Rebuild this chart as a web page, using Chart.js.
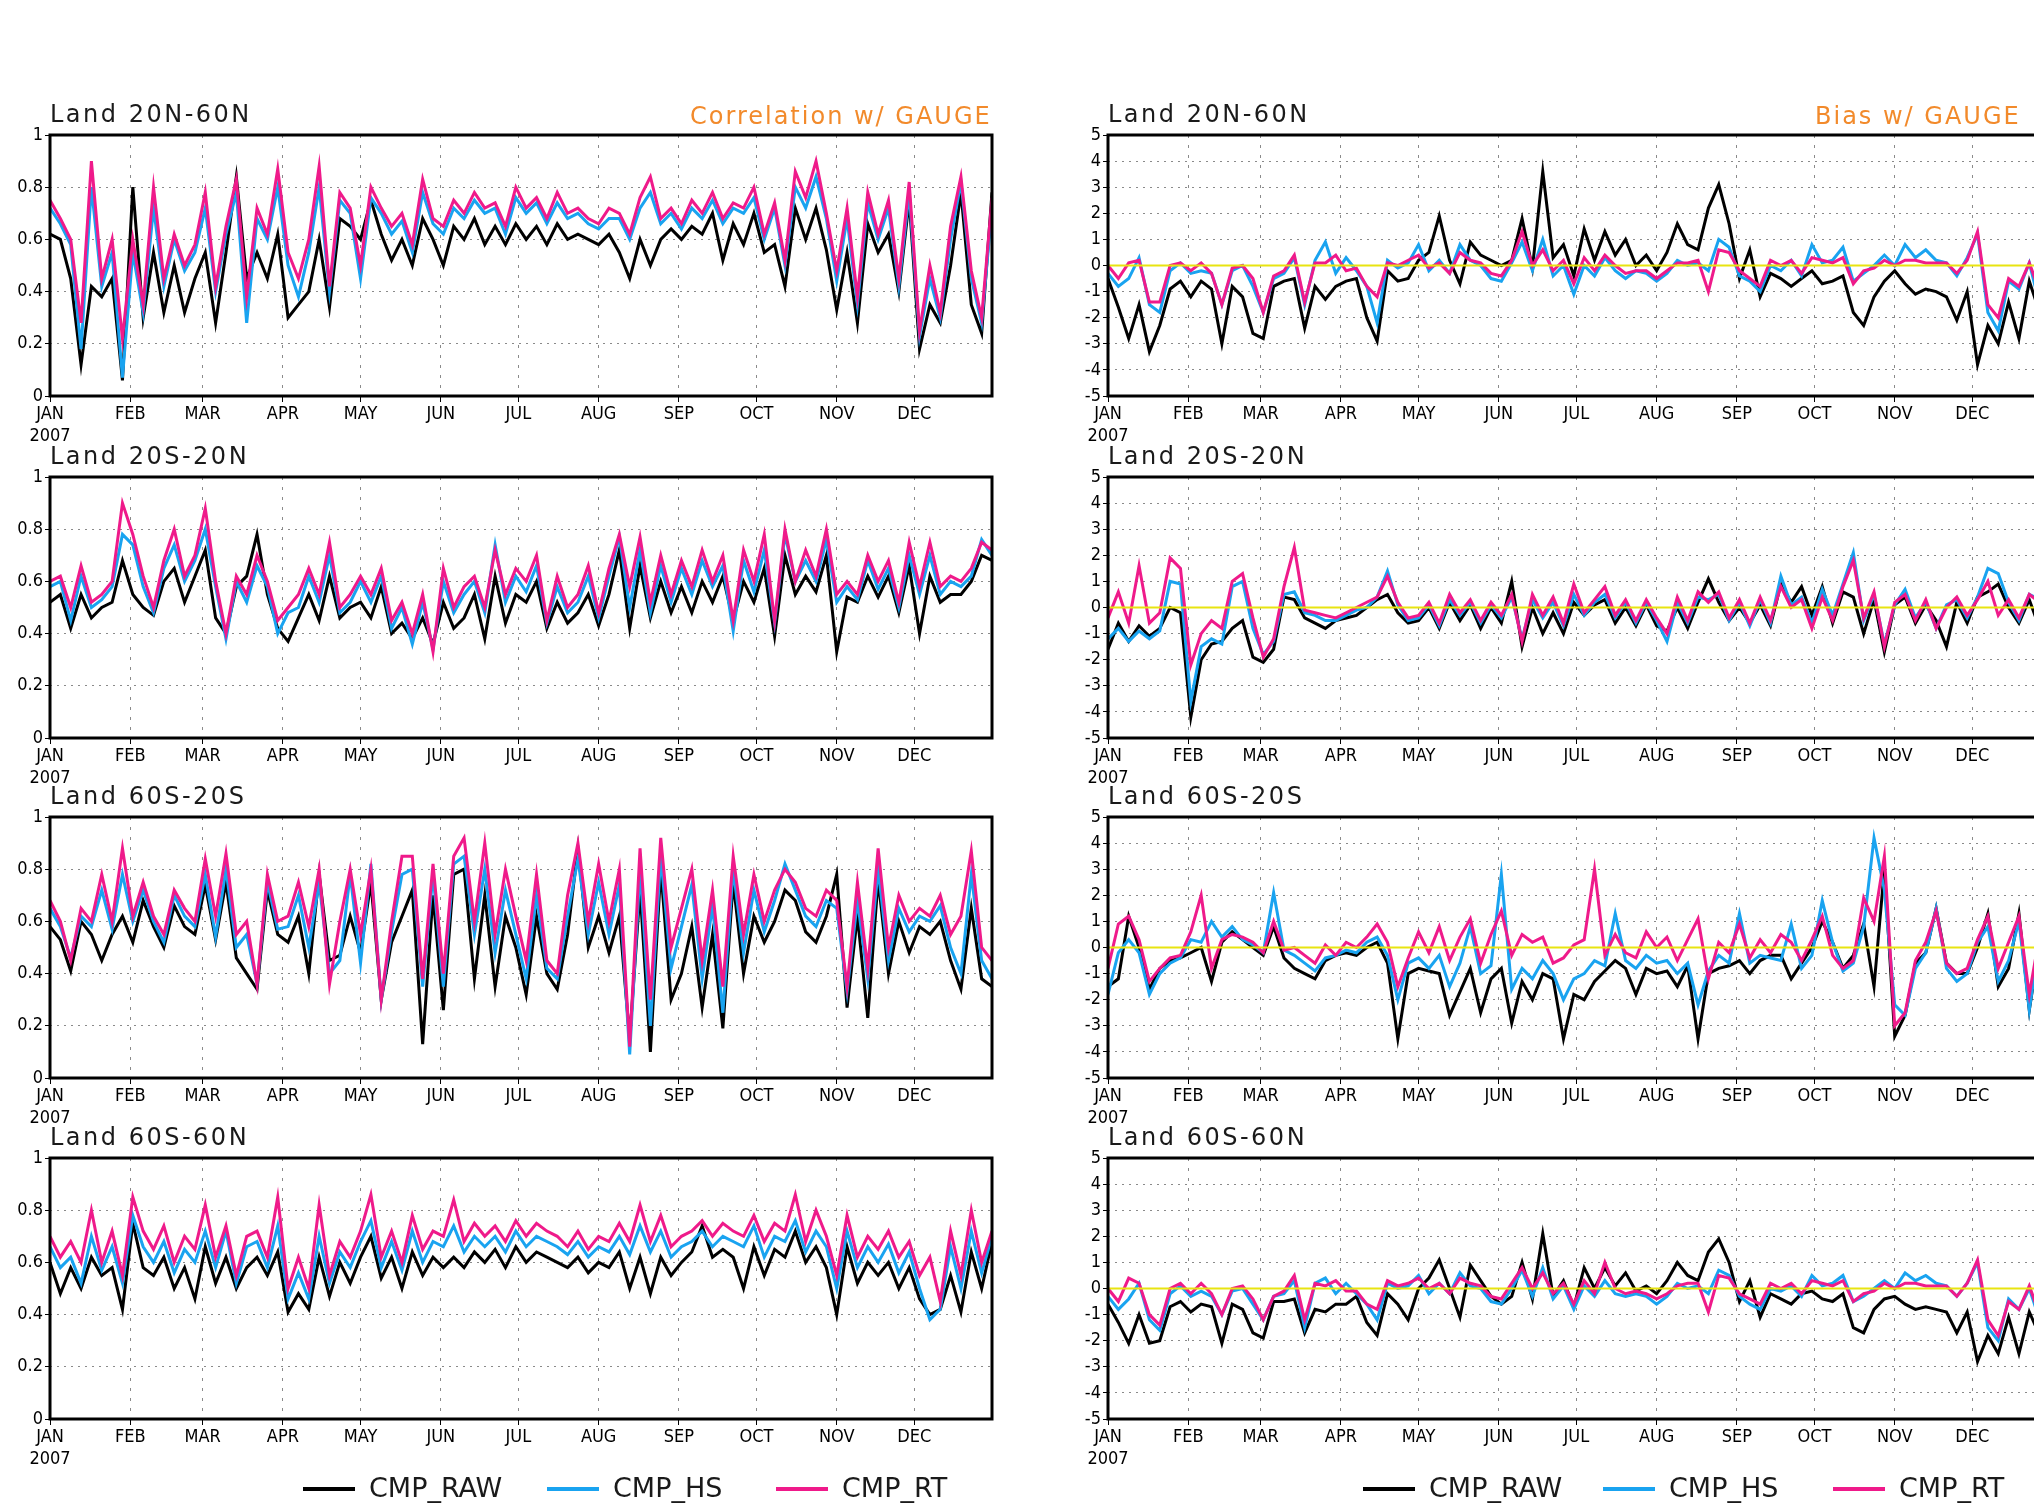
<!DOCTYPE html>
<html lang="en">
<head>
<meta charset="UTF-8">
<title>CMP vs GAUGE - Land 2007</title>
<script src="https://cdn.jsdelivr.net/npm/chart.js@4.4.1/dist/chart.umd.min.js"></script>
<style>
  html, body { margin: 0; padding: 0; background: #fff; overflow: hidden; }
  #stage { position: relative; width: 2034px; height: 1503px; overflow: hidden; }
  #stage canvas { position: absolute; }
  .region { position: absolute; font-family: "DejaVu Sans", sans-serif; font-size: 24px;
            letter-spacing: 2.5px; color: #1a1a1a; line-height: 1; white-space: nowrap; }
  .head { position: absolute; font-family: "DejaVu Sans", sans-serif; font-size: 24px; letter-spacing: 2px;
          color: #f28a2b; line-height: 1; white-space: nowrap; }
  .leg { position: absolute; font-family: "DejaVu Sans", sans-serif; font-size: 27px;
         color: #1a1a1a; line-height: 1; white-space: nowrap; }
  .sw { position: absolute; height: 4px; }
</style>
</head>
<body>
<div id="stage"></div>

<script>
// ---- axis categories ----
const MONTH_LABELS = ["JAN", "FEB", "MAR", "APR", "MAY", "JUN", "JUL", "AUG", "SEP", "OCT", "NOV", "DEC"];
const MONTH_START = [0, 31, 59, 90, 120, 151, 181, 212, 243, 273, 304, 334];
// one sample every 4 days, day 0 .. 364
const DAYS = Array.from({ length: 92 }, (_, i) => i * 4);

// ---- Correlation w/ GAUGE, Land 20N-60N ----
const corrN_raw = [
  0.62, 0.60, 0.45, 0.12, 0.42, 0.38, 0.45, 0.06, 0.80, 0.30,
  0.55, 0.32, 0.50, 0.32, 0.45, 0.55, 0.28, 0.55, 0.84, 0.45,
  0.55, 0.45, 0.62, 0.30, 0.35, 0.40, 0.60, 0.34, 0.68, 0.65,
  0.60, 0.75, 0.62, 0.52, 0.60, 0.50, 0.68, 0.60, 0.50, 0.65,
  0.60, 0.68, 0.58, 0.65, 0.58, 0.66, 0.60, 0.65, 0.58, 0.66,
  0.60, 0.62, 0.60, 0.58, 0.62, 0.55, 0.45, 0.60, 0.50, 0.60,
  0.64, 0.60, 0.65, 0.62, 0.70, 0.52, 0.66, 0.58, 0.70, 0.55,
  0.58, 0.42, 0.72, 0.60, 0.72, 0.56, 0.33, 0.55, 0.28, 0.66,
  0.55, 0.62, 0.40, 0.75, 0.18, 0.35, 0.28, 0.50, 0.78, 0.35,
  0.24, 0.78];
const corrN_hs = [
  0.72, 0.66, 0.58, 0.18, 0.80, 0.42, 0.55, 0.07, 0.55, 0.32,
  0.72, 0.42, 0.60, 0.48, 0.55, 0.72, 0.40, 0.62, 0.78, 0.28,
  0.68, 0.60, 0.80, 0.50, 0.38, 0.55, 0.80, 0.40, 0.75, 0.70,
  0.45, 0.76, 0.70, 0.62, 0.67, 0.55, 0.78, 0.66, 0.62, 0.72,
  0.68, 0.75, 0.70, 0.72, 0.62, 0.76, 0.70, 0.74, 0.66, 0.74,
  0.68, 0.70, 0.66, 0.64, 0.68, 0.68, 0.60, 0.72, 0.78, 0.66,
  0.70, 0.64, 0.72, 0.68, 0.75, 0.66, 0.72, 0.70, 0.76, 0.60,
  0.72, 0.50, 0.80, 0.72, 0.84, 0.68, 0.44, 0.68, 0.35, 0.74,
  0.60, 0.72, 0.42, 0.78, 0.23, 0.45, 0.30, 0.60, 0.82, 0.45,
  0.28, 0.72];
const corrN_rt = [
  0.75, 0.68, 0.60, 0.28, 0.90, 0.45, 0.60, 0.22, 0.60, 0.35,
  0.80, 0.45, 0.62, 0.50, 0.58, 0.78, 0.42, 0.65, 0.83, 0.38,
  0.72, 0.62, 0.87, 0.55, 0.45, 0.60, 0.88, 0.42, 0.78, 0.72,
  0.50, 0.80, 0.72, 0.65, 0.70, 0.58, 0.83, 0.68, 0.65, 0.75,
  0.70, 0.78, 0.72, 0.74, 0.65, 0.80, 0.72, 0.76, 0.68, 0.78,
  0.70, 0.72, 0.68, 0.66, 0.72, 0.70, 0.62, 0.76, 0.84, 0.68,
  0.72, 0.66, 0.75, 0.70, 0.78, 0.68, 0.74, 0.72, 0.80, 0.62,
  0.74, 0.52, 0.86, 0.76, 0.90, 0.70, 0.48, 0.72, 0.38, 0.78,
  0.62, 0.75, 0.45, 0.82, 0.25, 0.50, 0.32, 0.65, 0.84, 0.48,
  0.30, 0.76];

// ---- Correlation, Land 20S-20N ----
const corrT_raw = [
  0.52, 0.55, 0.42, 0.55, 0.46, 0.50, 0.52, 0.68, 0.55, 0.50,
  0.47, 0.60, 0.65, 0.52, 0.62, 0.72, 0.46, 0.40, 0.58, 0.62,
  0.78, 0.55, 0.42, 0.37, 0.46, 0.55, 0.45, 0.62, 0.46, 0.50,
  0.52, 0.46, 0.58, 0.40, 0.44, 0.38, 0.46, 0.36, 0.52, 0.42,
  0.46, 0.55, 0.38, 0.62, 0.44, 0.55, 0.52, 0.60, 0.42, 0.52,
  0.44, 0.48, 0.55, 0.43, 0.55, 0.72, 0.42, 0.66, 0.46, 0.60,
  0.48, 0.58, 0.48, 0.60, 0.52, 0.62, 0.45, 0.60, 0.52, 0.65,
  0.39, 0.70, 0.55, 0.62, 0.56, 0.70, 0.33, 0.54, 0.52, 0.62,
  0.54, 0.62, 0.48, 0.66, 0.40, 0.62, 0.52, 0.55, 0.55, 0.60,
  0.70, 0.68];
const corrT_hs = [
  0.58, 0.60, 0.45, 0.62, 0.50, 0.53, 0.58, 0.78, 0.74, 0.58,
  0.48, 0.65, 0.74, 0.60, 0.68, 0.80, 0.58, 0.38, 0.60, 0.52,
  0.66, 0.58, 0.40, 0.48, 0.50, 0.62, 0.52, 0.70, 0.48, 0.52,
  0.60, 0.52, 0.62, 0.42, 0.50, 0.36, 0.52, 0.34, 0.60, 0.48,
  0.55, 0.60, 0.48, 0.74, 0.52, 0.62, 0.56, 0.66, 0.44, 0.58,
  0.48, 0.52, 0.62, 0.46, 0.62, 0.77, 0.50, 0.72, 0.48, 0.66,
  0.52, 0.65, 0.55, 0.68, 0.58, 0.66, 0.41, 0.68, 0.56, 0.72,
  0.44, 0.78, 0.60, 0.68, 0.60, 0.76, 0.52, 0.58, 0.53, 0.68,
  0.57, 0.65, 0.50, 0.70, 0.55, 0.70, 0.55, 0.60, 0.58, 0.62,
  0.76, 0.70];
const corrT_rt = [
  0.60, 0.62, 0.50, 0.66, 0.52, 0.55, 0.60, 0.90, 0.78, 0.62,
  0.50, 0.68, 0.80, 0.62, 0.70, 0.88, 0.60, 0.40, 0.62, 0.55,
  0.70, 0.60, 0.45, 0.50, 0.55, 0.65, 0.55, 0.75, 0.50, 0.55,
  0.62, 0.55, 0.65, 0.45, 0.52, 0.40, 0.55, 0.33, 0.65, 0.50,
  0.58, 0.62, 0.50, 0.72, 0.55, 0.65, 0.60, 0.70, 0.45, 0.62,
  0.50, 0.55, 0.66, 0.48, 0.65, 0.78, 0.58, 0.77, 0.52, 0.70,
  0.55, 0.68, 0.58, 0.72, 0.60, 0.70, 0.45, 0.72, 0.60, 0.78,
  0.45, 0.80, 0.60, 0.72, 0.62, 0.80, 0.55, 0.60, 0.55, 0.70,
  0.60, 0.68, 0.52, 0.75, 0.58, 0.75, 0.58, 0.62, 0.60, 0.65,
  0.75, 0.72];

// ---- Correlation, Land 60S-20S ----
const corrS_raw = [
  0.58, 0.53, 0.41, 0.60, 0.55, 0.45, 0.55, 0.62, 0.52, 0.68,
  0.58, 0.50, 0.66, 0.58, 0.55, 0.74, 0.53, 0.75, 0.46, 0.40,
  0.34, 0.72, 0.55, 0.52, 0.62, 0.40, 0.78, 0.45, 0.47, 0.62,
  0.48, 0.75, 0.30, 0.52, 0.62, 0.72, 0.13, 0.70, 0.26, 0.78,
  0.80, 0.38, 0.70, 0.35, 0.62, 0.50, 0.32, 0.62, 0.40, 0.34,
  0.55, 0.88, 0.50, 0.62, 0.48, 0.62, 0.15, 0.72, 0.10, 0.80,
  0.30, 0.40, 0.58, 0.27, 0.55, 0.19, 0.75, 0.40, 0.62, 0.52,
  0.60, 0.72, 0.68, 0.56, 0.52, 0.62, 0.78, 0.27, 0.62, 0.23,
  0.76, 0.40, 0.60, 0.48, 0.58, 0.55, 0.60, 0.45, 0.34, 0.65,
  0.38, 0.35];
const corrS_hs = [
  0.65, 0.58, 0.46, 0.62, 0.58, 0.72, 0.57, 0.78, 0.60, 0.72,
  0.60, 0.52, 0.70, 0.62, 0.58, 0.78, 0.54, 0.80, 0.50, 0.55,
  0.36, 0.75, 0.57, 0.58, 0.70, 0.50, 0.75, 0.40, 0.45, 0.78,
  0.44, 0.82, 0.30, 0.56, 0.78, 0.80, 0.35, 0.78, 0.35, 0.82,
  0.85, 0.55, 0.80, 0.48, 0.72, 0.55, 0.38, 0.70, 0.42, 0.38,
  0.62, 0.84, 0.55, 0.75, 0.55, 0.74, 0.09, 0.80, 0.20, 0.85,
  0.42, 0.58, 0.74, 0.38, 0.66, 0.25, 0.80, 0.48, 0.72, 0.56,
  0.68, 0.82, 0.72, 0.62, 0.58, 0.68, 0.65, 0.33, 0.68, 0.38,
  0.80, 0.45, 0.65, 0.56, 0.62, 0.60, 0.66, 0.50, 0.40, 0.78,
  0.45, 0.38];
const corrS_rt = [
  0.68, 0.60, 0.45, 0.65, 0.60, 0.78, 0.60, 0.88, 0.62, 0.75,
  0.62, 0.55, 0.72, 0.65, 0.60, 0.84, 0.62, 0.86, 0.55, 0.60,
  0.36, 0.78, 0.60, 0.62, 0.75, 0.58, 0.80, 0.36, 0.60, 0.80,
  0.55, 0.80, 0.30, 0.60, 0.85, 0.85, 0.38, 0.82, 0.40, 0.85,
  0.92, 0.60, 0.90, 0.55, 0.80, 0.62, 0.45, 0.78, 0.45, 0.40,
  0.70, 0.90, 0.60, 0.82, 0.60, 0.80, 0.12, 0.88, 0.30, 0.92,
  0.50, 0.65, 0.80, 0.45, 0.72, 0.35, 0.85, 0.55, 0.78, 0.60,
  0.72, 0.80, 0.75, 0.65, 0.62, 0.72, 0.68, 0.35, 0.75, 0.42,
  0.88, 0.50, 0.70, 0.60, 0.65, 0.62, 0.70, 0.55, 0.62, 0.87,
  0.50, 0.45];

// ---- Correlation, Land 60S-60N ----
const corrG_raw = [
  0.60, 0.48, 0.58, 0.50, 0.62, 0.55, 0.58, 0.42, 0.75, 0.58,
  0.55, 0.62, 0.50, 0.58, 0.46, 0.66, 0.52, 0.62, 0.50, 0.58,
  0.62, 0.55, 0.64, 0.41, 0.48, 0.42, 0.62, 0.47, 0.60, 0.52,
  0.62, 0.70, 0.54, 0.62, 0.50, 0.64, 0.55, 0.62, 0.58, 0.62,
  0.58, 0.64, 0.60, 0.65, 0.58, 0.66, 0.60, 0.64, 0.62, 0.60,
  0.58, 0.62, 0.56, 0.60, 0.58, 0.64, 0.50, 0.62, 0.48, 0.62,
  0.55, 0.60, 0.64, 0.74, 0.62, 0.65, 0.62, 0.50, 0.66, 0.55,
  0.65, 0.62, 0.72, 0.60, 0.66, 0.58, 0.40, 0.66, 0.52, 0.60,
  0.55, 0.60, 0.50, 0.58, 0.46, 0.40, 0.42, 0.55, 0.41, 0.64,
  0.50, 0.68];
const corrG_hs = [
  0.66, 0.58, 0.62, 0.52, 0.70, 0.57, 0.66, 0.52, 0.78, 0.66,
  0.60, 0.68, 0.56, 0.65, 0.60, 0.72, 0.58, 0.72, 0.52, 0.66,
  0.68, 0.58, 0.74, 0.46, 0.56, 0.46, 0.70, 0.52, 0.64, 0.58,
  0.68, 0.76, 0.58, 0.68, 0.57, 0.72, 0.60, 0.68, 0.66, 0.74,
  0.64, 0.70, 0.66, 0.70, 0.64, 0.72, 0.66, 0.70, 0.68, 0.66,
  0.63, 0.68, 0.62, 0.66, 0.64, 0.70, 0.63, 0.74, 0.64, 0.72,
  0.62, 0.66, 0.68, 0.72, 0.66, 0.70, 0.68, 0.66, 0.74, 0.62,
  0.70, 0.68, 0.76, 0.64, 0.72, 0.66, 0.50, 0.72, 0.58, 0.66,
  0.60, 0.67, 0.56, 0.64, 0.50, 0.38, 0.42, 0.66, 0.50, 0.72,
  0.56, 0.70];
const corrG_rt = [
  0.70, 0.62, 0.68, 0.60, 0.80, 0.60, 0.72, 0.55, 0.85, 0.72,
  0.65, 0.74, 0.60, 0.70, 0.65, 0.82, 0.62, 0.74, 0.55, 0.70,
  0.72, 0.62, 0.85, 0.50, 0.62, 0.50, 0.82, 0.55, 0.68, 0.62,
  0.72, 0.86, 0.62, 0.72, 0.60, 0.78, 0.65, 0.72, 0.70, 0.84,
  0.68, 0.75, 0.70, 0.74, 0.68, 0.76, 0.70, 0.75, 0.72, 0.70,
  0.66, 0.72, 0.65, 0.70, 0.68, 0.75, 0.68, 0.82, 0.68, 0.78,
  0.66, 0.70, 0.72, 0.76, 0.70, 0.75, 0.72, 0.70, 0.78, 0.68,
  0.75, 0.72, 0.86, 0.68, 0.80, 0.70, 0.55, 0.78, 0.62, 0.70,
  0.65, 0.72, 0.62, 0.68, 0.55, 0.62, 0.45, 0.72, 0.55, 0.80,
  0.60, 0.72];

// ---- Bias w/ GAUGE, Land 20N-60N ----
const biasN_raw = [
  -0.5, -1.6, -2.8, -1.5, -3.3, -2.3, -0.9, -0.6, -1.2, -0.6,
  -0.9, -3.0, -0.8, -1.2, -2.6, -2.8, -0.8, -0.6, -0.5, -2.4,
  -0.8, -1.3, -0.8, -0.6, -0.5, -2.0, -2.9, -0.2, -0.6, -0.5,
  0.2, 0.5, 1.9, 0.2, -0.7, 0.9, 0.4, 0.2, 0.0, 0.2,
  1.8, -0.1, 3.6, 0.3, 0.8, -0.4, 1.4, 0.2, 1.3, 0.4,
  1.0, 0.0, 0.4, -0.2, 0.5, 1.6, 0.8, 0.6, 2.2, 3.1,
  1.6, -0.5, 0.6, -1.2, -0.3, -0.5, -0.8, -0.5, -0.2, -0.7,
  -0.6, -0.4, -1.8, -2.3, -1.2, -0.6, -0.2, -0.7, -1.1, -0.9,
  -1.0, -1.2, -2.1, -1.0, -3.8, -2.3, -3.0, -1.4, -2.8, -0.6,
  -1.8, -1.0];
const biasN_hs = [
  -0.3, -0.8, -0.5, 0.3, -1.5, -1.8, -0.2, 0.1, -0.3, -0.2,
  -0.3, -1.5, -0.2, 0.0, -0.8, -1.8, -0.5, -0.3, 0.3, -1.5,
  0.2, 0.9, -0.3, 0.3, -0.2, -0.8, -2.2, 0.2, -0.1, 0.1,
  0.8, -0.2, 0.2, -0.3, 0.8, 0.2, 0.0, -0.5, -0.6, 0.1,
  0.9, -0.2, 1.0, -0.4, 0.0, -1.1, 0.0, -0.4, 0.3, -0.2,
  -0.5, -0.2, -0.3, -0.6, -0.3, 0.2, 0.0, 0.1, -0.2, 1.0,
  0.7, -0.4, -0.6, -1.0, 0.0, -0.2, 0.2, -0.4, 0.8, 0.1,
  0.2, 0.7, -0.6, -0.3, 0.0, 0.4, 0.0, 0.8, 0.3, 0.6,
  0.2, 0.1, -0.4, 0.3, 1.2, -1.8, -2.5, -0.6, -0.9, 0.1,
  -1.5, -0.6];
const biasN_rt = [
  0.0, -0.5, 0.1, 0.2, -1.4, -1.4, 0.0, 0.1, -0.2, 0.1,
  -0.3, -1.5, -0.1, 0.0, -0.5, -1.8, -0.4, -0.2, 0.4, -1.4,
  0.1, 0.1, 0.4, -0.2, -0.1, -0.8, -1.2, 0.1, 0.0, 0.2,
  0.4, -0.1, 0.1, -0.3, 0.5, 0.2, 0.1, -0.3, -0.4, 0.2,
  1.3, 0.0, 0.6, -0.2, 0.2, -0.7, 0.3, -0.2, 0.4, 0.0,
  -0.3, -0.2, -0.2, -0.5, -0.2, 0.1, 0.1, 0.2, -1.0, 0.6,
  0.5, -0.2, -0.5, -0.8, 0.2, 0.0, 0.2, -0.3, 0.3, 0.2,
  0.1, 0.3, -0.7, -0.2, -0.1, 0.2, 0.0, 0.2, 0.2, 0.1,
  0.1, 0.1, -0.3, 0.2, 1.3, -1.5, -2.0, -0.5, -0.8, 0.1,
  -1.0, -0.4];

// ---- Bias, Land 20S-20N ----
const biasT_raw = [
  -1.6, -0.6, -1.3, -0.7, -1.1, -0.8, 0.0, -0.2, -4.2, -2.0,
  -1.4, -1.3, -0.8, -0.5, -1.9, -2.1, -1.6, 0.4, 0.3, -0.4,
  -0.6, -0.8, -0.5, -0.4, -0.3, 0.0, 0.3, 0.5, -0.2, -0.6,
  -0.5, 0.0, -0.8, 0.2, -0.5, 0.1, -0.8, 0.0, -0.6, 1.0,
  -1.5, 0.0, -1.0, -0.2, -1.0, 0.2, -0.3, 0.1, 0.3, -0.6,
  0.0, -0.7, 0.1, -0.7, -0.9, 0.0, -0.8, 0.2, 1.1, 0.2,
  -0.5, 0.0, -0.6, 0.1, -0.7, 0.9, 0.2, 0.8, -0.3, 0.8,
  -0.6, 0.6, 0.4, -1.0, 0.3, -1.7, 0.1, 0.4, -0.6, 0.1,
  -0.5, -1.5, 0.2, -0.6, 0.4, 0.6, 0.9, 0.0, -0.6, 0.3,
  -0.8, -1.2];
const biasT_hs = [
  -1.2, -0.8, -1.3, -0.9, -1.2, -0.9, 1.0, 0.9, -3.6, -1.5,
  -1.2, -1.4, 0.8, 1.0, -0.8, -1.8, -1.3, 0.5, 0.6, -0.2,
  -0.3, -0.5, -0.5, -0.3, -0.1, 0.0, 0.4, 1.4, 0.1, -0.5,
  -0.4, 0.1, -0.7, 0.3, -0.3, 0.2, -0.6, 0.1, -0.4, 0.4,
  -1.2, 0.3, -0.4, 0.2, -0.7, 0.5, -0.3, 0.2, 0.5, -0.4,
  0.2, -0.6, 0.2, -0.5, -1.3, 0.2, -0.6, 0.4, 0.3, 0.5,
  -0.5, 0.2, -0.7, 0.3, -0.6, 1.2, 0.1, 0.4, -0.6, 0.7,
  -0.3, 0.9, 2.1, -0.5, 0.5, -1.4, 0.1, 0.7, -0.4, 0.2,
  -0.8, 0.1, 0.3, -0.4, 0.4, 1.5, 1.3, 0.2, -0.5, 0.5,
  0.3, -0.4];
const biasT_rt = [
  -0.4, 0.6, -0.6, 1.6, -0.6, -0.2, 1.9, 1.5, -2.2, -1.0,
  -0.5, -0.8, 1.0, 1.3, -0.4, -1.9, -1.2, 0.8, 2.3, -0.1,
  -0.2, -0.3, -0.4, -0.2, 0.0, 0.2, 0.4, 1.2, 0.2, -0.4,
  -0.3, 0.2, -0.6, 0.5, -0.2, 0.3, -0.5, 0.2, -0.3, 0.5,
  -1.3, 0.5, -0.3, 0.4, -0.6, 0.9, -0.2, 0.3, 0.8, -0.3,
  0.3, -0.5, 0.3, -0.4, -1.0, 0.4, -0.5, 0.6, 0.2, 0.6,
  -0.4, 0.3, -0.6, 0.4, -0.5, 0.8, 0.0, 0.3, -0.8, 0.4,
  -0.5, 0.8, 1.8, -0.4, 0.6, -1.5, 0.2, 0.5, -0.5, 0.3,
  -0.8, 0.0, 0.4, -0.3, 0.3, 1.0, -0.3, 0.3, -0.4, 0.5,
  0.2, -0.3];

// ---- Bias, Land 60S-20S ----
const biasS_raw = [
  -1.5, -1.2, 1.2, 0.0, -1.6, -0.8, -0.5, -0.4, -0.2, 0.0,
  -1.3, 0.2, 0.6, 0.3, 0.0, -0.3, 0.8, -0.4, -0.8, -1.0,
  -1.2, -0.5, -0.3, -0.2, -0.3, 0.0, 0.2, -0.6, -3.5, -1.0,
  -0.8, -0.9, -1.0, -2.6, -1.7, -0.8, -2.5, -1.2, -0.8, -2.9,
  -1.3, -2.0, -1.0, -1.2, -3.5, -1.8, -2.0, -1.3, -0.9, -0.5,
  -0.8, -1.8, -0.8, -1.0, -0.9, -1.5, -0.7, -3.5, -1.0, -0.8,
  -0.7, -0.5, -1.0, -0.5, -0.3, -0.3, -1.2, -0.6, 0.0, 1.0,
  0.2, -0.8, -0.3, 0.9, -1.5, 3.0, -3.4, -2.6, -0.6, -0.2,
  1.5, -0.6, -1.0, -1.0, 0.0, 1.3, -1.5, -0.8, 1.3, -2.4,
  0.2, -1.0];
const biasS_hs = [
  -1.8, -0.2, 0.3, -0.2, -1.8, -1.0, -0.6, -0.4, 0.3, 0.2,
  1.0, 0.4, 0.8, 0.3, 0.1, -0.2, 2.1, -0.1, -0.3, -0.6,
  -0.9, -0.4, -0.3, -0.1, -0.2, 0.2, 0.4, -0.3, -2.0, -0.6,
  -0.4, -0.8, -0.3, -1.5, -0.6, 0.8, -1.0, -0.7, 2.8, -1.6,
  -0.8, -1.2, -0.5, -1.0, -2.0, -1.2, -1.0, -0.5, -0.7, 1.3,
  -0.5, -0.8, -0.3, -0.6, -0.5, -1.0, -0.6, -2.2, -0.9, -0.3,
  -0.6, 1.3, -0.6, -0.3, -0.4, -0.5, 0.9, -0.8, -0.3, 1.8,
  0.2, -0.9, -0.6, 0.8, 4.2, 2.2, -2.2, -2.6, -0.8, -0.2,
  1.5, -0.8, -1.3, -1.0, 0.2, 0.8, -1.3, -0.5, 1.0, -2.4,
  0.3, -0.8];
const biasS_rt = [
  -0.8, 0.9, 1.2, 0.3, -1.3, -0.8, -0.4, -0.3, 0.6, 2.0,
  -0.8, 0.3, 0.5, 0.4, 0.2, -0.2, 1.0, -0.1, 0.0, -0.3,
  -0.6, 0.1, -0.3, 0.2, 0.0, 0.4, 0.9, 0.2, -1.5, -0.4,
  0.6, -0.2, 0.8, -0.5, 0.4, 1.1, -0.6, 0.5, 1.4, -0.3,
  0.5, 0.2, 0.4, -0.6, -0.4, 0.1, 0.3, 3.0, -0.3, 0.5,
  -0.2, -0.4, 0.6, 0.0, 0.4, -0.5, 0.3, 1.1, -1.2, 0.2,
  -0.2, 0.9, -0.4, 0.3, -0.2, 0.5, 0.2, -0.5, 0.3, 1.2,
  -0.3, -0.8, -0.5, 1.9, 1.0, 3.5, -3.0, -2.5, -0.5, 0.2,
  1.4, -0.6, -1.0, -0.8, 0.3, 1.2, -0.8, 0.2, 1.2, -1.8,
  0.5, -0.5];

// ---- Bias, Land 60S-60N ----
const biasG_raw = [
  -0.6, -1.3, -2.1, -1.0, -2.1, -2.0, -0.7, -0.5, -0.9, -0.6,
  -0.7, -2.1, -0.6, -0.8, -1.7, -1.9, -0.5, -0.5, -0.4, -1.7,
  -0.8, -0.9, -0.6, -0.6, -0.3, -1.3, -1.8, -0.2, -0.6, -1.2,
  0.0, 0.4, 1.1, 0.0, -1.1, 0.9, 0.3, -0.3, -0.6, -0.3,
  1.0, -0.4, 2.1, -0.3, 0.3, -0.7, 0.8, 0.0, 0.8, 0.1,
  0.6, -0.1, 0.1, -0.2, 0.3, 1.0, 0.5, 0.3, 1.4, 1.9,
  1.0, -0.5, 0.3, -1.1, -0.2, -0.4, -0.6, -0.2, -0.1, -0.4,
  -0.5, -0.2, -1.5, -1.7, -0.8, -0.4, -0.3, -0.6, -0.8, -0.7,
  -0.8, -0.9, -1.7, -0.9, -2.8, -1.8, -2.5, -1.1, -2.5, -0.9,
  -1.8, -1.0];
const biasG_hs = [
  -0.3, -0.8, -0.4, 0.2, -1.2, -1.6, -0.2, 0.1, -0.3, -0.1,
  -0.3, -1.0, -0.1, 0.0, -0.6, -1.2, -0.3, -0.2, 0.3, -1.5,
  0.2, 0.4, -0.2, 0.2, -0.2, -0.6, -1.2, 0.2, 0.0, 0.1,
  0.5, -0.2, 0.2, -0.2, 0.6, 0.1, 0.0, -0.5, -0.6, 0.0,
  0.7, -0.3, 0.8, -0.4, 0.1, -0.8, 0.1, -0.3, 0.3, -0.2,
  -0.3, -0.2, -0.3, -0.6, -0.3, 0.2, 0.0, 0.1, -0.2, 0.7,
  0.5, -0.3, -0.6, -0.8, 0.0, -0.1, 0.1, -0.3, 0.5, 0.1,
  0.2, 0.5, -0.5, -0.3, 0.0, 0.3, 0.0, 0.6, 0.3, 0.5,
  0.2, 0.1, -0.3, 0.2, 1.0, -1.5, -2.0, -0.4, -0.8, 0.0,
  -1.2, -0.4];
const biasG_rt = [
  0.0, -0.5, 0.4, 0.2, -1.0, -1.4, 0.0, 0.2, -0.2, 0.2,
  -0.2, -1.0, 0.0, 0.1, -0.4, -1.2, -0.3, -0.1, 0.5, -1.2,
  0.2, 0.1, 0.3, -0.1, -0.1, -0.6, -0.8, 0.3, 0.1, 0.2,
  0.4, 0.0, 0.2, -0.2, 0.4, 0.2, 0.1, -0.3, -0.4, 0.2,
  0.8, 0.0, 0.6, -0.2, 0.2, -0.6, 0.3, -0.2, 1.0, 0.0,
  -0.2, -0.1, -0.2, -0.4, -0.2, 0.1, 0.2, 0.2, -0.9, 0.5,
  0.4, -0.2, -0.4, -0.6, 0.2, 0.0, 0.2, -0.2, 0.3, 0.2,
  0.1, 0.3, -0.5, -0.2, -0.1, 0.2, 0.0, 0.2, 0.2, 0.1,
  0.1, 0.1, -0.3, 0.2, 1.1, -1.2, -1.8, -0.5, -0.8, 0.1,
  -1.0, -0.4];

// ---- page layout (px) ----
const PLOT_LEFT = [50, 1108];
const PLOT_TOP = [135, 477, 817, 1158];
const PLOT_W = 942, PLOT_H = 261;
const AXIS_W = 48, AXIS_H = 56, PAD_TOP = 14, PAD_RIGHT = 8;

const COLORS = { raw: "#000000", hs: "#19a3f0", rt: "#ef1a8a" };
const TICK_FONT = '"Liberation Sans Narrow", "DejaVu Sans Condensed", "DejaVu Sans", sans-serif';

const stage = document.getElementById("stage");

// frame, and the yellow zero line on the bias panels
const framePlugin = {
  id: "frame",
  afterDatasetsDraw(chart, args, opts) {
    const { ctx, chartArea: a, scales } = chart;
    ctx.save();
    if (opts.zero) {
      const y = scales.y.getPixelForValue(0);
      ctx.strokeStyle = "#e8e410";
      ctx.lineWidth = 2;
      ctx.beginPath();
      ctx.moveTo(a.left, y);
      ctx.lineTo(a.right, y);
      ctx.stroke();
    }
    ctx.strokeStyle = "#000";
    ctx.lineWidth = 3;
    ctx.strokeRect(a.left, a.top, a.right - a.left, a.bottom - a.top);
    ctx.restore();
  }
};

function series(arr) {
  return arr.map((v, i) => ({ x: DAYS[i], y: v }));
}

function addText(cls, text, left, top) {
  const d = document.createElement("div");
  d.className = cls;
  d.textContent = text;
  d.style.left = left + "px";
  d.style.top = top + "px";
  stage.appendChild(d);
  return d;
}

function makePanel(col, row, region, isBias, raw, hs, rt) {
  const w = AXIS_W + PLOT_W + PAD_RIGHT;
  const h = PAD_TOP + PLOT_H + AXIS_H;
  const cv = document.createElement("canvas");
  cv.width = w;
  cv.height = h;
  cv.style.left = (PLOT_LEFT[col] - AXIS_W) + "px";
  cv.style.top = (PLOT_TOP[row] - PAD_TOP) + "px";
  cv.style.width = w + "px";
  cv.style.height = h + "px";
  stage.appendChild(cv);

  addText("region", region, PLOT_LEFT[col], PLOT_TOP[row] - 33);

  new Chart(cv.getContext("2d"), {
    type: "line",
    data: {
      datasets: [
        { label: "CMP_RAW", data: series(raw), borderColor: COLORS.raw, order: 3 },
        { label: "CMP_HS", data: series(hs), borderColor: COLORS.hs, order: 2 },
        { label: "CMP_RT", data: series(rt), borderColor: COLORS.rt, order: 1 }
      ]
    },
    options: {
      responsive: false,
      devicePixelRatio: 1,
      animation: false,
      layout: { padding: { top: PAD_TOP, right: PAD_RIGHT, left: 0, bottom: 0 } },
      elements: {
        line: { borderWidth: 3, tension: 0 },
        point: { radius: 0 }
      },
      plugins: {
        legend: { display: false },
        tooltip: { enabled: false },
        frame: { zero: isBias }
      },
      scales: {
        x: {
          type: "linear",
          min: 0,
          max: 364,
          afterBuildTicks: s => { s.ticks = MONTH_START.map(v => ({ value: v })); },
          afterFit: s => { s.height = AXIS_H; },
          ticks: {
            autoSkip: false,
            maxRotation: 0,
            padding: 2,
            color: "#000",
            font: { family: TICK_FONT, size: 18 },
            callback: v => {
              const k = MONTH_START.indexOf(v);
              return k === 0 ? [MONTH_LABELS[0], "2007"] : MONTH_LABELS[k];
            }
          },
          grid: { color: "#8a8a8a", lineWidth: 1, tickLength: 6, tickColor: "#000", tickBorderDash: [] },
          border: { display: false, dash: [3, 7] }
        },
        y: {
          min: isBias ? -5 : 0,
          max: isBias ? 5 : 1,
          afterFit: s => { s.width = AXIS_W; },
          ticks: {
            stepSize: isBias ? 1 : 0.2,
            padding: 2,
            color: "#000",
            font: { family: TICK_FONT, size: 18 },
            callback: v => String(Number(v.toFixed(1)))
          },
          grid: { color: "#8a8a8a", lineWidth: 1, tickLength: 5, tickColor: "#000", tickBorderDash: [] },
          border: { display: false, dash: [2, 5] }
        }
      }
    },
    plugins: [framePlugin]
  });
}

// left column: correlation, right column: bias
makePanel(0, 0, "Land 20N-60N", false, corrN_raw, corrN_hs, corrN_rt);
makePanel(0, 1, "Land 20S-20N", false, corrT_raw, corrT_hs, corrT_rt);
makePanel(0, 2, "Land 60S-20S", false, corrS_raw, corrS_hs, corrS_rt);
makePanel(0, 3, "Land 60S-60N", false, corrG_raw, corrG_hs, corrG_rt);
makePanel(1, 0, "Land 20N-60N", true, biasN_raw, biasN_hs, biasN_rt);
makePanel(1, 1, "Land 20S-20N", true, biasT_raw, biasT_hs, biasT_rt);
makePanel(1, 2, "Land 60S-20S", true, biasS_raw, biasS_hs, biasS_rt);
makePanel(1, 3, "Land 60S-60N", true, biasG_raw, biasG_hs, biasG_rt);

// orange panel headings
const corrHead = addText("head", "Correlation w/ GAUGE", 0, 104);
corrHead.style.left = (PLOT_LEFT[0] + PLOT_W - corrHead.offsetWidth) + "px";
addText("head", "Bias w/ GAUGE", 1815, 104);

// legends under each column
const LEGEND_ITEMS = [
  { name: "CMP_RAW", color: COLORS.raw },
  { name: "CMP_HS", color: COLORS.hs },
  { name: "CMP_RT", color: COLORS.rt }
];
const LEGEND_X = [[303, 547, 776], [1363, 1603, 1833]];
const LEGEND_Y = 1489;
LEGEND_X.forEach(xs => {
  xs.forEach((x, k) => {
    const sw = document.createElement("div");
    sw.className = "sw";
    sw.style.left = x + "px";
    sw.style.top = (LEGEND_Y - 2) + "px";
    sw.style.width = "52px";
    sw.style.background = LEGEND_ITEMS[k].color;
    stage.appendChild(sw);
    addText("leg", LEGEND_ITEMS[k].name, x + 66, LEGEND_Y - 15);
  });
});
</script>
</body>
</html>
